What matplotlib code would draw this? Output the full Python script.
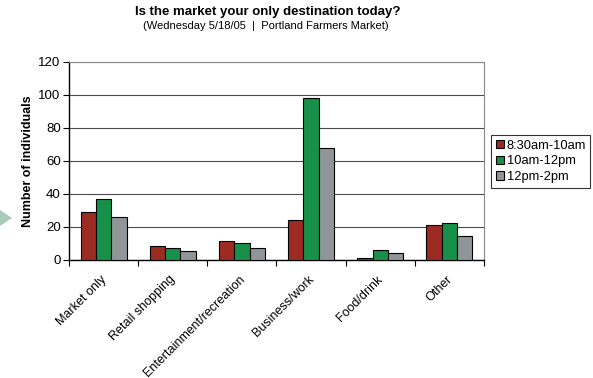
import matplotlib
matplotlib.use("Agg")
import numpy as np
import matplotlib.pyplot as plt
from matplotlib.patches import Polygon

plt.rcParams['font.family'] = ['Liberation Sans', 'DejaVu Sans']

categories = ["Market only", "Retail shopping", "Entertainment/recreation",
              "Business/work", "Food/drink", "Other"]
early = [29, 8, 11, 24, 1, 21]
midday = [37, 7, 10, 98, 6, 22]
afternoon = [26, 5, 7, 68, 4, 14]
series_names = ["8:30am-10am", "10am-12pm", "12pm-2pm"]
series_colors = ["#9c2c22", "#17904a", "#8f9598"]

fig = plt.figure(figsize=(5.93, 3.78), dpi=100)
ax = fig.add_axes([69 / 593, 1 - 259.5 / 378, 415 / 593, 197.5 / 378])

x = np.arange(len(categories))
w = 0.222
for i, (vals, name, col) in enumerate(zip([early, midday, afternoon], series_names, series_colors)):
    ax.bar(x + (i - 1) * w, vals, w, color=col, edgecolor="black", linewidth=0.8,
           label=name, zorder=3)

ax.set_xlim(-0.5, len(categories) - 0.5)
ax.set_ylim(0, 120)
ax.set_yticks(range(0, 121, 20))
ax.yaxis.grid(True, color="#4a4a4a", linewidth=0.8, zorder=0)

# ticks between categories, labels hang just left of each group centre
ax.set_xticks(np.arange(len(categories) + 1) - 0.5)
ax.set_xticklabels([])
ax.set_xticks(x - 0.05, minor=True)
ax.set_xticklabels(categories, minor=True, rotation=45, ha="right", va="top",
                   rotation_mode="anchor", fontsize=9)
ax.tick_params(axis="x", which="minor", length=0, pad=10)
ax.tick_params(axis="x", which="major", length=4, width=0.8)
ax.tick_params(axis="y", length=4, width=0.8, labelsize=9.5, pad=2)

for side in ["top", "right"]:
    ax.spines[side].set_color("#888888")
    ax.spines[side].set_linewidth(0.8)
ax.spines["left"].set_linewidth(1.0)
ax.spines["bottom"].set_linewidth(1.0)

ax.set_ylabel("Number of individuals", fontsize=9, fontweight="bold", labelpad=3)

leg = ax.legend(loc="upper left", bbox_to_anchor=(491 / 593, 1 - 135 / 378),
                bbox_transform=fig.transFigure, frameon=True, fancybox=False,
                fontsize=9.3, handlelength=0.65, handleheight=0.65,
                handletextpad=0.2, borderpad=0.35, labelspacing=0.3,
                borderaxespad=0)
leg.get_frame().set_edgecolor("black")
leg.get_frame().set_linewidth(0.8)

fig.text(0.452, 1 - 12 / 378, "Is the market your only destination today?",
         ha="center", va="center", fontsize=9.5, fontweight="bold")
fig.text(266 / 593, 1 - 26 / 378, "(Wednesday 5/18/05  |  Portland Farmers Market)",
         ha="center", va="center", fontsize=8)

# slide pointer arrow on the left edge
fig.patches.append(Polygon([(0, 1 - 210 / 378), (0, 1 - 226 / 378), (12 / 593, 1 - 218 / 378)],
                           closed=True, transform=fig.transFigure,
                           facecolor="#a9cbb9", edgecolor="none"))

fig.savefig("out.png", dpi=100)
